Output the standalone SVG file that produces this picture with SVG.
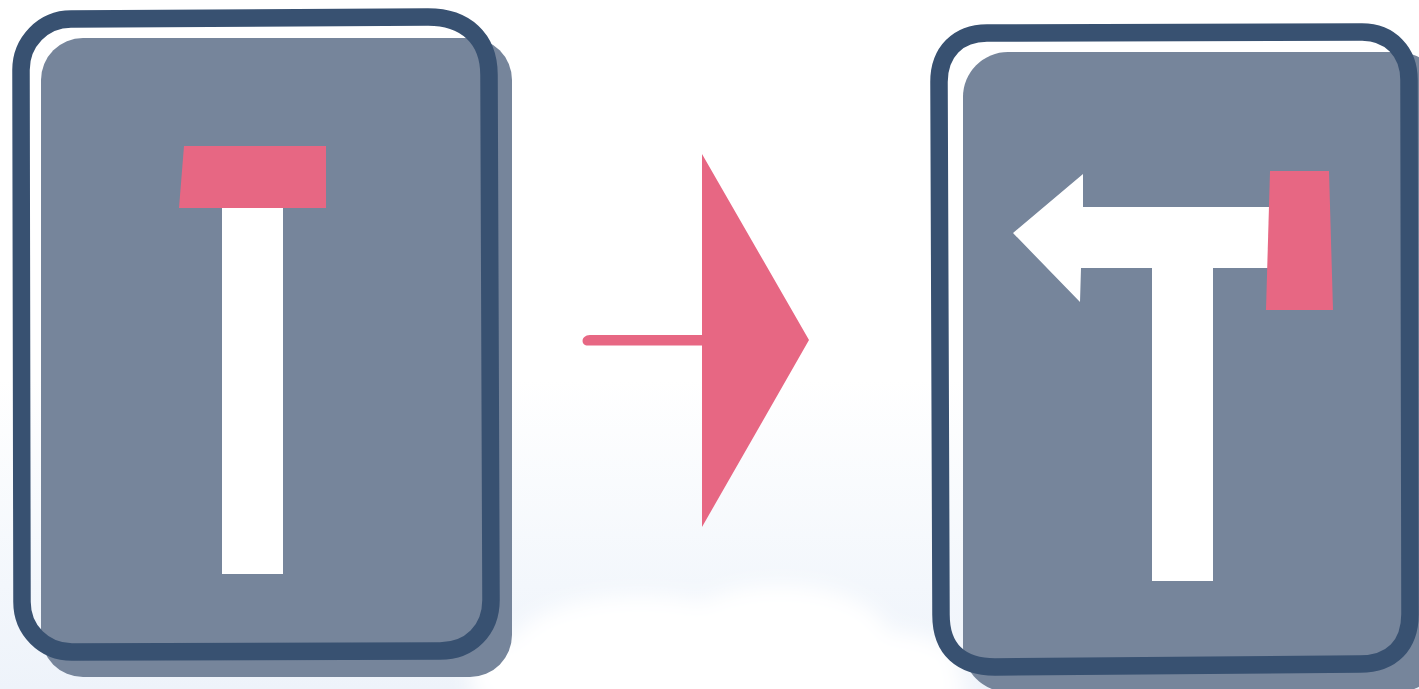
<svg xmlns="http://www.w3.org/2000/svg" width="1419" height="689" viewBox="0 0 1419 689">
<defs>
<linearGradient id="bg" x1="0" y1="0" x2="0" y2="1">
<stop offset="0" stop-color="#ffffff"/>
<stop offset="0.55" stop-color="#ffffff"/>
<stop offset="0.85" stop-color="#f3f7fc"/>
<stop offset="1" stop-color="#eef3fa"/>
</linearGradient>
<filter id="blur" x="-20%" y="-50%" width="140%" height="200%"><feGaussianBlur stdDeviation="10"/></filter>
<style>
.fill{fill:#76859b}
.outline{fill:none;stroke:#385171;stroke-width:17.5;stroke-linejoin:round;stroke-linecap:round}
.pink{fill:#e76783}
.white{fill:#ffffff}
</style>
</defs>
<rect width="1419" height="689" fill="url(#bg)"/>
<g filter="url(#blur)" fill="#ffffff">
<ellipse cx="640" cy="650" rx="130" ry="55"/>
<ellipse cx="780" cy="640" rx="110" ry="55"/>
<ellipse cx="560" cy="670" rx="90" ry="40"/>
<ellipse cx="880" cy="665" rx="80" ry="35"/>
<ellipse cx="720" cy="690" rx="250" ry="40"/>
</g>
<g id="sign-before">
<rect class="fill" x="41" y="38" width="471" height="639" rx="42"/>
<path class="outline" d="M71,19 L428,17 C465,17 489,38 489,75 L491,600 C491,630 470,651 440,651 L72,652 C44,652 22,630 22,602 L21,70 C21,42 43,19 71,19 Z"/>
<polygon class="pink" points="184,146 326,146 326,208 179,208"/>
<rect class="white" x="222" y="208" width="61" height="366"/>
</g>
<g id="connectors">
<path class="pink" d="M702,154 L809,340 L702,527 L702,345.5 L588,345.5 C580,345.5 581,335 590,335 L702,335 Z"/>
</g>
<g id="sign-after">
<rect class="fill" x="963" y="52" width="480" height="640" rx="45"/>
<path class="outline" d="M987,33 L1362,32 C1390,32 1409,52 1409,80 L1410,614 C1410,645 1392,664 1360,664 L995,667 C962,667 941,650 941,615 L939,82 C939,52 958,33 987,33 Z"/>
<polygon class="white" points="1013,233 1083,174 1083,207 1272,207 1272,268 1213,268 1213,581 1152,581 1152,268 1081,268 1080,302"/>
<polygon class="pink" points="1270,171 1329,171 1333,310 1266,310"/>
</g>
</svg>
